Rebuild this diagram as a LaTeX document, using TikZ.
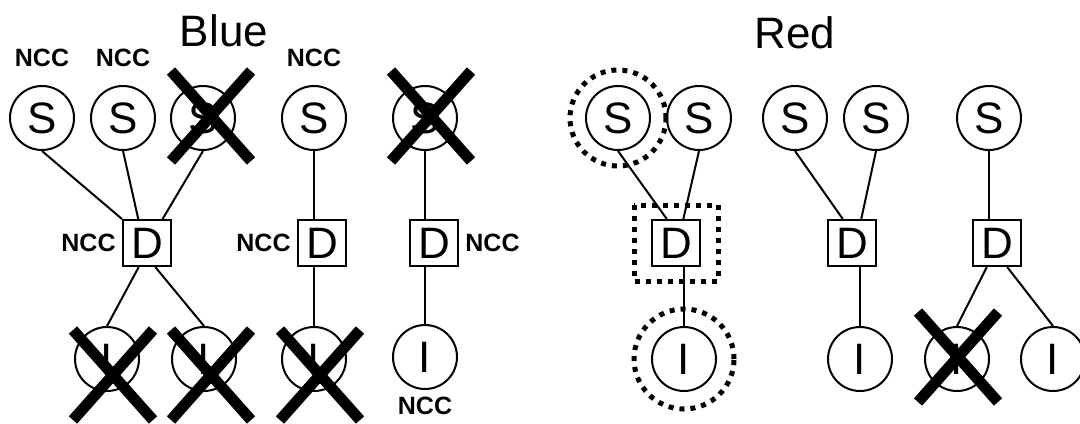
\documentclass[tikz,border=0pt]{standalone}
\usepackage{fontspec}
\setmainfont{Liberation Sans}
\usepackage{tikz}
\usetikzlibrary{arrows.meta, calc, positioning}

\tikzset{
  site/.style={draw, circle, line width=1pt, minimum size=32pt, inner sep=0pt,
               font=\fontsize{22}{24}\selectfont},
  dsite/.style={draw, rectangle, line width=1pt, minimum width=24pt,
                minimum height=23pt, inner sep=0pt, font=\fontsize{22}{24}\selectfont},
  ncc/.style={inner sep=0pt, font=\bfseries\fontsize{12.5}{14}\selectfont},
  title/.style={font=\fontsize{22}{24}\selectfont},
  link/.style={line width=1pt},
  hilite/.style={line width=2.5pt, dash pattern=on 2.5pt off 3pt},
  xmark/.pic={\draw[line width=5.5pt] (-40,-45) -- (40,45) (40,-45) -- (-40,45);}
}

\begin{document}
\begin{tikzpicture}[x=0.5pt,y=-0.5pt]
  \useasboundingbox (0,0) rectangle (1080,423);
  % titles
  \node[title] (tblue) at (224,31) {Blue};
  \node[title] (tred) at (795,33) {Red};
  % blue: sites
  \node[site] (s1) at (42,118) {S};
  \node[site] (s2) at (123,118) {S};
  \node[site] (s3) at (203,118) {S};
  \node[site] (s4) at (314,118) {S};
  \node[site] (s5) at (425,118) {S};
  \node[dsite] (d1) at (147,243) {D};
  \node[dsite] (d2) at (322,243) {D};
  \node[dsite] (d3) at (434,243) {D};
  \node[site] (i1) at (107,359) {I};
  \node[site] (i2) at (204,359) {I};
  \node[site] (i3) at (314,359) {I};
  \node[site] (i4) at (425,357) {I};
  % blue: NCC marks
  \node[ncc, above=9pt of s1] {NCC};
  \node[ncc, above=9pt of s2] {NCC};
  \node[ncc, above=9pt of s4] {NCC};
  \node[ncc, left=3pt of d1] {NCC};
  \node[ncc, left=3pt of d2] {NCC};
  \node[ncc, right=3pt of d3] {NCC};
  \node[ncc, below=3.5pt of i4] {NCC};
  % blue: links
  \draw[link] (s1.south) -- (d1.north west);
  \draw[link] (s2.south) -- (d1.110);
  \draw[link] (s3.south) -- (d1.57);
  \draw[link] (s4.south) -- (s4.south |- d2.north);
  \draw[link] (s5.south) -- (s5.south |- d3.north);
  \draw[link] (d1.-109) -- (i1.north);
  \draw[link] (d1.-71) -- (i2.north);
  \draw[link] (d2.south -| i3.north) -- (i3.north);
  \draw[link] (d3.south -| i4.north) -- (i4.north);
  % blue: removed sites
  \pic at (211,116) {xmark};
  \pic at (431,116) {xmark};
  \pic at (113,375) {xmark};
  \pic at (211,375) {xmark};
  \pic at (320,375) {xmark};
  % red: sites
  \node[site] (s6) at (618,118) {S};
  \node[site] (s7) at (699,118) {S};
  \node[site] (s8) at (795,118) {S};
  \node[site] (s9) at (876,118) {S};
  \node[site] (s10) at (989,118) {S};
  \node[dsite] (d4) at (676,243) {D};
  \node[dsite] (d5) at (852,243) {D};
  \node[dsite] (d6) at (997,243) {D};
  \node[site] (i5) at (684,359) {I};
  \node[site] (i6) at (860,359) {I};
  \node[site] (i7) at (957,359) {I};
  \node[site] (i8) at (1053,359) {I};
  % red: links
  \draw[link] (s6.south) -- (d4.111);
  \draw[link] (s7.south) -- (d4.73);
  \draw[link] (d4.south -| i5.north) -- (i5.north);
  \draw[link] (s8.south) -- (d5.111);
  \draw[link] (s9.south) -- (d5.69);
  \draw[link] (d5.south -| i6.north) -- (i6.north);
  \draw[link] (s10.south) -- (s10.south |- d6.north);
  \draw[link] (d6.-113) -- (i7.north);
  \draw[link] (d6.-67) -- (i8.north);
  % red: highlighted chain
  \draw[hilite] (s6) circle[radius=24pt];
  \draw[hilite] ([shift={(-42,-38)}]d4.center) rectangle ([shift={(42,38)}]d4.center);
  \draw[hilite] (i5) circle[radius=25pt];
  \pic at (958,357) {xmark};
\end{tikzpicture}
\end{document}
